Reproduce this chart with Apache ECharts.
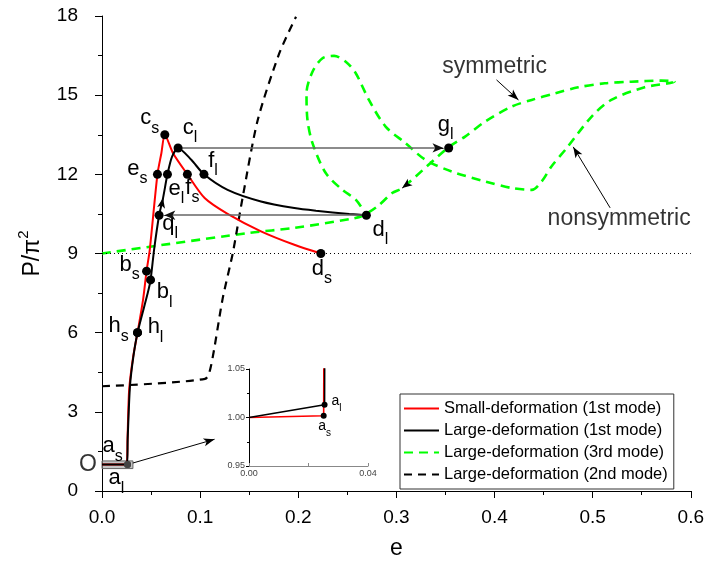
<!DOCTYPE html>
<html>
<head>
<meta charset="utf-8">
<script src="https://cdn.jsdelivr.net/npm/echarts@6/dist/echarts.min.js"></script>
<style>
  html, body { margin: 0; padding: 0; background: #fff; }
  #chart { width: 707px; height: 565px; }
</style>
</head>
<body>
<div id="chart"></div>
<script>
// Load–shortening paths [e, P/π²]
const smallDeformation1st = [
  [0, 1.0], [0.0251, 1.0018], [0.026, 1.96], [0.0277, 3.85], [0.0318, 5.1],
  [0.0362, 6.0], [0.0419, 7.26], [0.0454, 8.33], [0.0487, 9.15], [0.0565, 12.0],
  [0.0605, 12.8], [0.064, 13.5], [0.0724, 12.8], [0.087, 12.0], [0.1046, 11.1],
  [0.128, 10.5], [0.162, 9.84], [0.196, 9.33], [0.223, 9.0]
];
const largeDeformation1st = [
  [0, 1.0], [0.0254, 1.0132], [0.0262, 2.0], [0.0285, 3.97], [0.032, 5.1],
  [0.0362, 6.0], [0.0466, 7.5], [0.0495, 8.0], [0.0531, 9.15], [0.0582, 10.45],
  [0.0622, 11.1], [0.0667, 12.0], [0.0714, 12.67], [0.0775, 13.0], [0.091, 12.55],
  [0.1039, 12.0], [0.128, 11.41], [0.162, 10.97], [0.196, 10.72], [0.218, 10.62],
  [0.252, 10.5], [0.2694, 10.45]
];
const largeDeformation3rd = [
  [0, 9.0], [0.15, 9.78], [0.196, 9.97], [0.2535, 10.31], [0.265, 10.42],
  [0.2805, 10.78], [0.2957, 11.29], [0.3059, 11.48], [0.3533, 13.03], [0.37, 13.43],
  [0.3905, 14.0], [0.4176, 14.57], [0.4378, 14.82], [0.4616, 15.07], [0.4853, 15.3],
  [0.5124, 15.45], [0.5394, 15.51], [0.57, 15.55], [0.5834, 15.51],
  [0.553, 15.3], [0.519, 14.82], [0.499, 14.19], [0.4734, 12.99], [0.458, 12.3],
  [0.448, 11.73], [0.438, 11.41], [0.4176, 11.48], [0.3905, 11.73], [0.3567, 12.1],
  [0.3296, 12.55], [0.3093, 13.18], [0.289, 13.81], [0.272, 14.82], [0.2586, 15.83],
  [0.2484, 16.27], [0.2365, 16.49], [0.2247, 16.4], [0.2145, 15.89], [0.2084, 15.07],
  [0.2094, 14.06], [0.2145, 13.18], [0.228, 12.05], [0.245, 11.41], [0.2586, 11.04],
  [0.2694, 10.45]
];
const largeDeformation2nd = [
  [0, 3.97], [0.105, 4.25], [0.111, 4.73], [0.123, 7.3], [0.1333, 9.02],
  [0.1435, 11.16], [0.1587, 14.06], [0.1807, 16.59], [0.1977, 17.97]
];
const seriesNames = [
  'Small-deformation (1st mode)',
  'Large-deformation (1st mode)',
  'Large-deformation (3rd mode)',
  'Large-deformation (2nd mode)'
];

// Labelled states on the paths
const pointLetters = ['c', 'c', 'e', 'e', 'f', 'f', 'q', 'd', 'd', 'g', 'b', 'b', 'h', 'h', 'a', 'a'];
const pointSubs    = ['s', 'l', 's', 'l', 's', 'l', 'l', 'l', 's', 'l', 's', 'l', 's', 'l', 's', 'l'];
const pointE = [0.064, 0.0775, 0.0565, 0.0667, 0.087, 0.1039, 0.0582, 0.2694, 0.223, 0.3533, 0.0454, 0.0495, 0.0362, 0.0362, 0.026, 0.026];
const pointP = [13.5, 13.0, 12.0, 12.0, 12.0, 12.0, 10.45, 10.45, 9.0, 13.0, 8.33, 8.0, 6.0, 6.0, 1.0, 1.0];

// Close-up states near the origin
const insetLetters = ['a', 'a'];
const insetSubs = ['l', 's'];
const insetE = [0.0254, 0.0251];
const insetP = [1.0132, 1.0018];

// Reference load level
const referenceLoad = 9;

// Axis ranges
const xRange = [0, 0.6, 0.1];
const yRange = [0, 18, 3];
const insetXRange = [0, 0.04, 0.04];
const insetYRange = [0.95, 1.05, 0.05];

// ---------- styling ----------
const FONT = "'Liberation Sans', Arial, sans-serif";
const labelOffset = {
  cs: [-15, -13], cl: [12, -17], es: [-20, -2], el: [9, 18], fs: [5, 17], fl: [9, -10],
  ql: [11, 12], dl: [14, 18], ds: [1, 19], gl: [-3, -20], bs: [-17, -3], bl: [14, 16],
  hs: [-19, -3], hl: [18, -2], as: [-15, -15], al: [-11, 17]
};
const insetOffset = { al: [12, -1], as: [1, 13] };

// letter with a lowered subscript
const subRich = (big, small, lineH) => ({
  m: { fontSize: big, lineHeight: big + 1, verticalAlign: 'top', color: '#000', fontFamily: FONT },
  s: { fontSize: small, lineHeight: lineH, verticalAlign: 'bottom', color: '#000', fontFamily: FONT }
});
const subText = (l, s) => '{m|' + l + '}{s|' + s + '}';

const pointData = pointE.map((e, i) => {
  const key = pointLetters[i] + pointSubs[i];
  const isA = pointLetters[i] === 'a';
  return {
    value: [e, pointP[i]],
    name: key,
    symbolSize: isA ? 7 : 9,
    itemStyle: { color: isA ? '#444' : '#000', opacity: 1 },
    label: { offset: labelOffset[key], formatter: subText(pointLetters[i], pointSubs[i]) }
  };
});
const insetData = insetE.map((e, i) => {
  const key = insetLetters[i] + insetSubs[i];
  return {
    value: [e, insetP[i]],
    name: key,
    label: { offset: insetOffset[key], formatter: subText(insetLetters[i], insetSubs[i]) }
  };
});

const arrow = (from, to, color, width, size) => [
  { coord: from, symbol: 'none', lineStyle: { color: color, width: width, type: 'solid' } },
  { coord: to, symbol: size ? 'arrow' : 'none', symbolSize: size || 0 }
];

const chart = echarts.init(document.getElementById('chart'), null, { renderer: 'canvas' });

const mainAxisLabel = { fontSize: 19, color: '#000', fontFamily: FONT };

chart.setOption({
  animation: false,
  backgroundColor: '#fff',
  textStyle: { fontFamily: FONT },
  grid: [
    { left: 102, top: 16, width: 591, height: 476 },
    { left: 249, top: 369, width: 119, height: 97 }
  ],
  legend: {
    data: seriesNames,
    orient: 'vertical',
    left: 400,
    top: 394,
    itemWidth: 35,
    itemHeight: 14,
    itemGap: 5,
    padding: [6, 6, 6, 3],
    borderColor: '#333',
    borderWidth: 1,
    itemStyle: { opacity: 0 },
    textStyle: { fontSize: 16.5, color: '#000', fontFamily: FONT, lineHeight: 16 }
  },
  xAxis: [
    {
      type: 'value', gridIndex: 0,
      min: xRange[0], max: xRange[1], interval: xRange[2],
      name: 'e', nameLocation: 'middle', nameGap: 46,
      nameTextStyle: { fontSize: 23, color: '#000', fontFamily: FONT },
      axisLine: { show: true, onZero: false, lineStyle: { color: '#000', width: 1 } },
      axisTick: { show: true, length: 7, lineStyle: { color: '#000' } },
      minorTick: { show: true, splitNumber: 2, length: 4, lineStyle: { color: '#000' } },
      splitLine: { show: false },
      axisLabel: Object.assign({ margin: 17, formatter: v => v.toFixed(1) }, mainAxisLabel)
    },
    {
      type: 'value', gridIndex: 1,
      min: insetXRange[0], max: insetXRange[1], interval: insetXRange[2],
      axisLine: { show: true, onZero: false, lineStyle: { color: '#888', width: 1 } },
      axisTick: { show: true, length: 3, inside: true, lineStyle: { color: '#888' } },
      minorTick: { show: true, splitNumber: 2, length: 3, lineStyle: { color: '#888' } },
      splitLine: { show: false },
      axisLabel: { fontSize: 9, color: '#444', margin: 3, formatter: v => v.toFixed(2), fontFamily: FONT }
    }
  ],
  yAxis: [
    {
      type: 'value', gridIndex: 0,
      min: yRange[0], max: yRange[1], interval: yRange[2],
      name: '{a|P/π}{b|2}', nameLocation: 'middle', nameGap: 58, nameRotate: 90,
      nameTextStyle: {
        rich: {
          a: { fontSize: 23, lineHeight: 28, verticalAlign: 'bottom', color: '#000', fontFamily: FONT },
          b: { fontSize: 15, lineHeight: 14, verticalAlign: 'top', color: '#000', fontFamily: FONT }
        }
      },
      axisLine: { show: true, lineStyle: { color: '#000', width: 1 } },
      axisTick: { show: true, length: 7, lineStyle: { color: '#000' } },
      minorTick: { show: true, splitNumber: 2, length: 4, lineStyle: { color: '#000' } },
      splitLine: { show: false },
      axisLabel: Object.assign({ margin: 24 }, mainAxisLabel)
    },
    {
      type: 'value', gridIndex: 1,
      min: insetYRange[0], max: insetYRange[1], interval: insetYRange[2],
      axisLine: { show: true, lineStyle: { color: '#000', width: 1 } },
      axisTick: { show: true, length: 3, lineStyle: { color: '#000' } },
      minorTick: { show: true, splitNumber: 2, length: 2, lineStyle: { color: '#000' } },
      splitLine: { show: false },
      axisLabel: { fontSize: 9, color: '#444', margin: 4, formatter: v => v.toFixed(2), fontFamily: FONT }
    }
  ],
  series: [
    // helper: reference line and close-up box
    {
      type: 'line', name: 'guides', data: [], xAxisIndex: 0, yAxisIndex: 0,
      markLine: {
        silent: true,
        symbol: ['none', 'none'],
        label: { show: false },
        data: [
          { yAxis: referenceLoad, lineStyle: { color: '#000', width: 1, type: [1, 3] } }
        ]
      },
      markArea: {
        silent: true,
        itemStyle: { color: 'rgba(150,150,150,0.55)', borderColor: '#666', borderWidth: 1 },
        data: [[{ coord: [0, 0.85] }, { coord: [0.0315, 1.14] }]]
      }
    },
    {
      type: 'line', name: seriesNames[0], data: smallDeformation1st,
      xAxisIndex: 0, yAxisIndex: 0, symbol: 'none', smooth: 0.25,
      lineStyle: { color: '#ff0000', width: 2 }, itemStyle: { color: '#ff0000' }, z: 3
    },
    {
      type: 'line', name: seriesNames[1], data: largeDeformation1st,
      xAxisIndex: 0, yAxisIndex: 0, symbol: 'none', smooth: 0.25,
      lineStyle: { color: '#000', width: 2 }, itemStyle: { color: '#000' }, z: 4
    },
    {
      type: 'line', name: seriesNames[2], data: largeDeformation3rd,
      xAxisIndex: 0, yAxisIndex: 0, symbol: 'none', smooth: 0.3,
      lineStyle: { color: '#00ff00', width: 2.6, type: [9, 6] }, itemStyle: { color: '#00ff00' }, z: 2
    },
    {
      type: 'line', name: seriesNames[3], data: largeDeformation2nd,
      xAxisIndex: 0, yAxisIndex: 0, symbol: 'none', smooth: 0.25,
      lineStyle: { color: '#000', width: 2.2, type: [8, 6] }, itemStyle: { color: '#000' }, z: 2
    },
    // transition arrows, path direction arrows, annotation pointers
    {
      type: 'line', name: 'arrows', data: [], xAxisIndex: 0, yAxisIndex: 0, z: 6,
      markLine: {
        silent: true,
        label: { show: false },
        data: [
          arrow([0.0775, 13.0], [0.345, 13.0], '#666', 1.5, 0),
          arrow([0.340, 13.0], [0.348, 13.0], '#111', 1, [7, 11]),
          arrow([0.2694, 10.45], [0.067, 10.45], '#666', 1.5, 0),
          arrow([0.071, 10.45], [0.0635, 10.45], '#111', 1, [7, 11]),
          arrow([0.0614, 10.95], [0.0622, 11.1], '#000', 1, [6, 10]),
          arrow([0.3091, 11.57], [0.3059, 11.48], '#000', 1, [6, 10]),
          arrow([0.402, 15.58], [0.4244, 14.82], '#000', 1, [6, 11]),
          arrow([0.5178, 10.73], [0.4802, 13.04], '#000', 1, [6, 11]),
          arrow([0.0315, 1.06], [0.1147, 1.96], '#000', 1, [6, 11])
        ]
      }
    },
    {
      type: 'scatter', name: 'states', data: pointData, xAxisIndex: 0, yAxisIndex: 0, z: 8,
      label: {
        show: true, position: 'inside', align: 'center', verticalAlign: 'middle',
        rich: subRich(22, 16, 29)
      }
    },
    {
      type: 'scatter', name: 'notes', xAxisIndex: 0, yAxisIndex: 0, z: 8,
      symbolSize: 0,
      data: [
        { value: [0.4, 16.07], name: 'symmetric' },
        { value: [0.527, 10.31], name: 'nonsymmetric' },
        { value: [0, 1.0], name: 'O', label: { offset: [-14, 0] } }
      ],
      label: {
        show: true, position: 'inside', align: 'center', verticalAlign: 'middle',
        formatter: p => p.name, fontSize: 23, color: '#000', fontFamily: FONT
      }
    },
    // close-up near the origin
    {
      type: 'line', name: seriesNames[0], data: smallDeformation1st,
      xAxisIndex: 1, yAxisIndex: 1, symbol: 'none', clip: true,
      lineStyle: { color: '#ff0000', width: 1.6 }, z: 3
    },
    {
      type: 'line', name: seriesNames[1], data: largeDeformation1st,
      xAxisIndex: 1, yAxisIndex: 1, symbol: 'none', clip: true,
      lineStyle: { color: '#000', width: 1.6 }, z: 4
    },
    {
      type: 'scatter', name: 'close-up states', data: insetData, xAxisIndex: 1, yAxisIndex: 1, z: 8,
      symbolSize: 6, itemStyle: { color: '#000', opacity: 1 },
      label: {
        show: true, position: 'inside', align: 'center', verticalAlign: 'middle',
        rich: subRich(14, 10, 19)
      }
    }
  ]
});
</script>
</body>
</html>
